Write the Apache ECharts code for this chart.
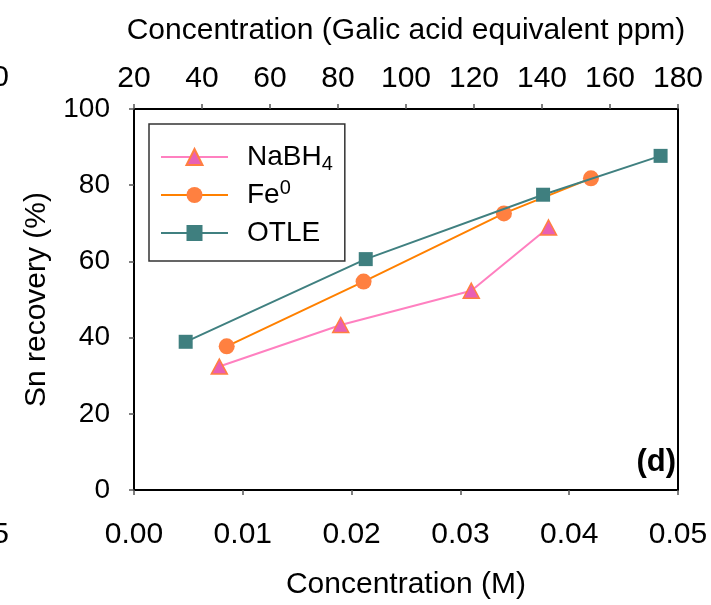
<!DOCTYPE html>
<html>
<head>
<meta charset="utf-8">
<script src="https://cdn.jsdelivr.net/npm/echarts@6/dist/echarts.min.js"></script>
<style>
  html, body { margin: 0; padding: 0; background: #fff; }
  #chart { width: 711px; height: 605px; }
</style>
</head>
<body>
<div id="chart"></div>
<script>
// Sn recovery versus reductant concentration
var concNaBH4 = [0.00784, 0.0190, 0.0310, 0.0381];
var recNaBH4  = [32.4, 43.3, 52.3, 68.9];
var concFe    = [0.00852, 0.0211, 0.0340, 0.0420];
var recFe     = [37.7, 54.7, 72.6, 81.8];
var concOTLE  = [0.00475, 0.0213, 0.0376, 0.0484];
var recOTLE   = [38.9, 60.6, 77.5, 87.7];

var seriesNames = ['NaBH4', 'Fe0', 'OTLE'];
var legendLabels = {
  'NaBH4': '{g|}NaBH{sub|4}',
  'Fe0': '{g|}Fe{sup|0}',
  'OTLE': '{g|}OTLE'
};

var FONT = "'Liberation Sans', Arial, sans-serif";

function pairs(xs, ys) {
  return xs.map(function (x, i) { return [x, ys[i]]; });
}

var chart = echarts.init(document.getElementById('chart'), null, { renderer: 'canvas' });

var axisLine = { show: true, lineStyle: { color: '#000', width: 2 } };
var axisTick = { show: true, inside: false, length: 5, lineStyle: { color: '#555', width: 1.5 } };

chart.setOption({
  animation: false,
  backgroundColor: '#fff',
  textStyle: { fontFamily: FONT },
  grid: {
    left: 134, right: 33, top: 109, bottom: 115,
    show: true, borderColor: '#000', borderWidth: 2, backgroundColor: 'transparent'
  },
  xAxis: [
    {
      type: 'value', position: 'bottom',
      min: 0, max: 0.05, interval: 0.01,
      axisLine: axisLine, axisTick: axisTick,
      splitLine: { show: false },
      axisLabel: {
        color: '#000', fontSize: 30, fontFamily: FONT, margin: 30,
        formatter: function (v) { return v.toFixed(2); }
      },
      name: 'Concentration (M)', nameLocation: 'middle', nameGap: 80,
      nameTextStyle: { color: '#000', fontSize: 30, fontFamily: FONT }
    },
    {
      type: 'value', position: 'top',
      min: 20, max: 180, interval: 20,
      axisLine: axisLine, axisTick: axisTick,
      splitLine: { show: false },
      axisLabel: { color: '#000', fontSize: 30, fontFamily: FONT, margin: 15 },
      name: 'Concentration (Galic acid equivalent ppm)', nameLocation: 'middle', nameGap: 63,
      nameTextStyle: { color: '#000', fontSize: 30, fontFamily: FONT }
    }
  ],
  yAxis: [
    {
      type: 'value', min: 0, max: 100, interval: 20,
      axisLine: axisLine, axisTick: axisTick,
      splitLine: { show: false },
      axisLabel: { color: '#000', fontSize: 28, fontFamily: FONT, margin: 24 },
      name: 'Sn recovery (%)', nameLocation: 'middle', nameGap: 82,
      nameTextStyle: { color: '#000', fontSize: 30, fontFamily: FONT }
    }
  ],
  legend: {
    orient: 'vertical',
    left: 149, top: 124,
    padding: [16, 12, 11, 11],
    itemGap: 4,
    itemWidth: 67, itemHeight: 20,
    borderColor: '#333', borderWidth: 1.5,
    backgroundColor: '#fff',
    data: seriesNames,
    formatter: function (name) { return legendLabels[name]; },
    textStyle: {
      color: '#000', fontSize: 28, fontFamily: FONT, lineHeight: 34,
      rich: {
        g: { width: 14, fontSize: 28, lineHeight: 34 },
        sub: { fontSize: 20, fontFamily: FONT, color: '#000', verticalAlign: 'bottom', lineHeight: 16 },
        sup: { fontSize: 20, fontFamily: FONT, color: '#000', verticalAlign: 'top', lineHeight: 12 }
      }
    }
  },
  series: [
    {
      name: 'NaBH4', type: 'line', xAxisIndex: 0, yAxisIndex: 0,
      data: pairs(concNaBH4, recNaBH4),
      symbol: 'triangle', symbolSize: [16, 15],
      lineStyle: { color: '#ff80c0', width: 2 },
      itemStyle: { color: '#e860b4', borderColor: '#ff7f40', borderWidth: 1.5 },
      z: 2
    },
    {
      name: 'Fe0', type: 'line', xAxisIndex: 0, yAxisIndex: 0,
      data: pairs(concFe, recFe),
      symbol: 'circle', symbolSize: 16,
      lineStyle: { color: '#ff8000', width: 2 },
      itemStyle: { color: '#ff8040', borderWidth: 0 },
      z: 3
    },
    {
      name: 'OTLE', type: 'line', xAxisIndex: 0, yAxisIndex: 0,
      data: pairs(concOTLE, recOTLE),
      symbol: 'rect', symbolSize: 14,
      lineStyle: { color: '#408080', width: 2 },
      itemStyle: { color: '#3f7f7f', borderWidth: 0 },
      z: 4
    }
  ],
  graphic: [
    {
      type: 'text', right: 35, top: 447, z: 10,
      style: { text: '(d)', font: "bold 31px " + FONT, fill: '#000' }
    },
    {
      type: 'text', x: 9, y: 78, z: 10,
      style: { text: '180', font: "30px " + FONT, fill: '#000', align: 'right', verticalAlign: 'middle' }
    },
    {
      type: 'text', x: 9, y: 535, z: 10,
      style: { text: '0.05', font: "30px " + FONT, fill: '#000', align: 'right', verticalAlign: 'middle' }
    }
  ]
});
</script>
</body>
</html>
